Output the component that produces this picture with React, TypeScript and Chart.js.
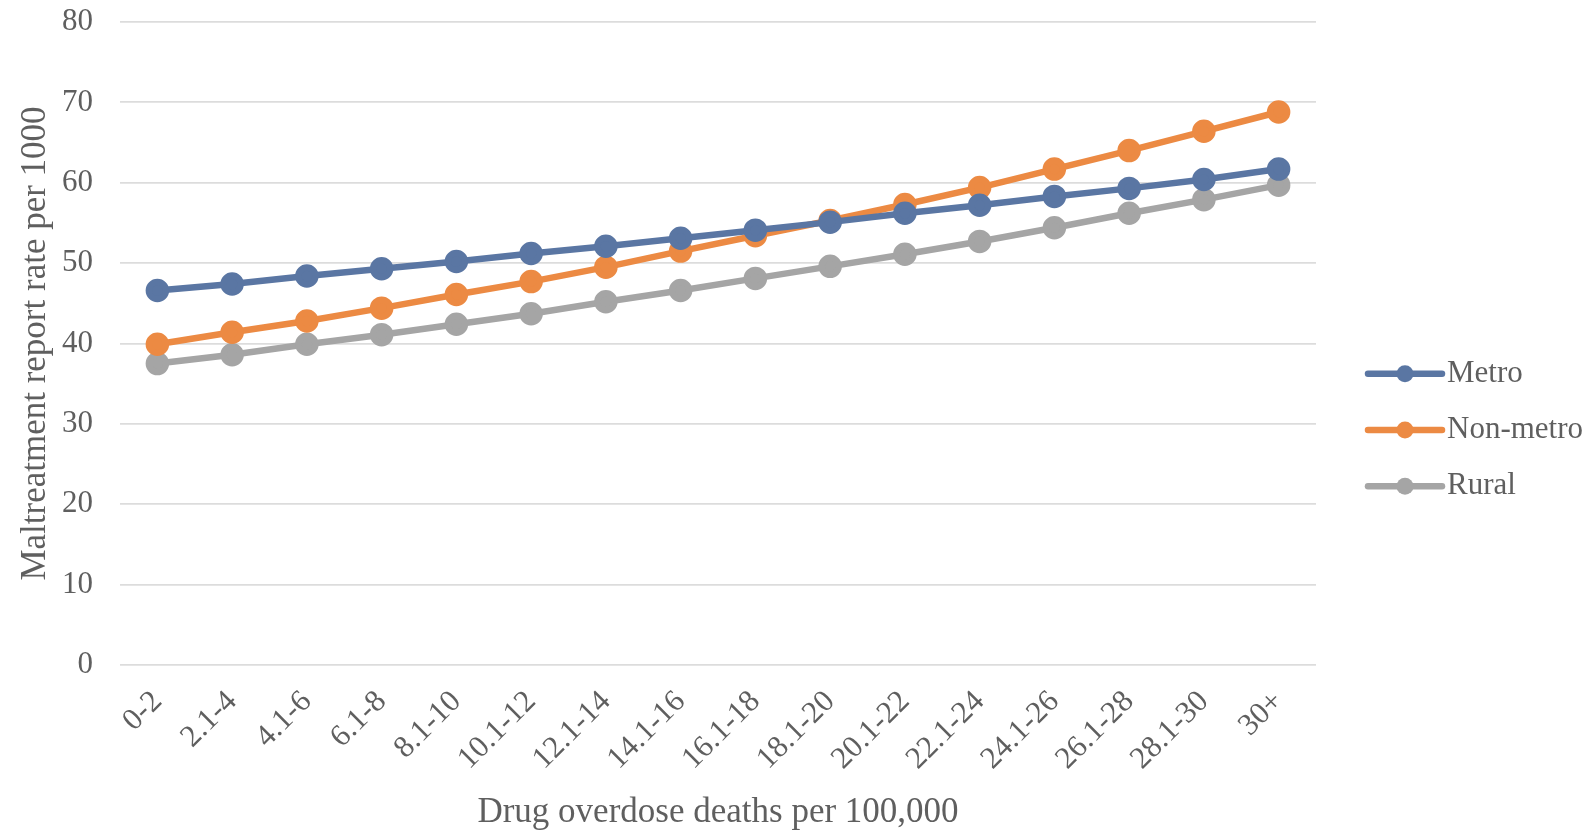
import { useEffect, useRef } from "react";
import { Chart, registerables } from "chart.js";

Chart.register(...registerables);

// Drug overdose death rate bands (per 100,000)
const categories = [
  "0-2", "2.1-4", "4.1-6", "6.1-8", "8.1-10", "10.1-12", "12.1-14", "14.1-16",
  "16.1-18", "18.1-20", "20.1-22", "22.1-24", "24.1-26", "26.1-28", "28.1-30", "30+",
];

// Maltreatment report rate per 1000, by county type
const metro = [46.6, 47.4, 48.4, 49.3, 50.2, 51.2, 52.1, 53.1, 54.1, 55.1, 56.2, 57.2, 58.3, 59.3, 60.4, 61.7];
const nonMetro = [39.9, 41.4, 42.8, 44.4, 46.1, 47.7, 49.5, 51.5, 53.4, 55.3, 57.3, 59.4, 61.7, 64.0, 66.4, 68.8];
const rural = [37.5, 38.6, 39.9, 41.1, 42.4, 43.7, 45.2, 46.6, 48.1, 49.6, 51.1, 52.7, 54.4, 56.2, 57.9, 59.7];

const seriesNames = ["Metro", "Non-metro", "Rural"];
const seriesColors = ["#5A76A3", "#EC8A43", "#A5A5A5"];

const yMin = 0;
const yMax = 80;
const yStep = 10;

const FONT = "'Liberation Serif', 'Times New Roman', serif";
const TEXT = "#5f5f5f";

// Legend drawn at the right: a short line with a dot, then the series name
const sideLegend = {
  id: "sideLegend",
  afterDraw(chart: any) {
    const { ctx, chartArea } = chart;
    const sets = chart.data.datasets;
    const rowGap = 56.3;
    const centerY = 430;
    const lineStart = chartArea.right + 52;
    const lineLen = 74;
    ctx.save();
    sets.forEach((ds: any, i: number) => {
      const y = centerY + (i - (sets.length - 1) / 2) * rowGap;
      ctx.strokeStyle = ds.borderColor;
      ctx.lineWidth = ds.borderWidth;
      ctx.lineCap = "round";
      ctx.beginPath();
      ctx.moveTo(lineStart, y);
      ctx.lineTo(lineStart + lineLen, y);
      ctx.stroke();
      ctx.fillStyle = ds.borderColor;
      ctx.beginPath();
      ctx.arc(lineStart + lineLen / 2, y, ds.pointRadius, 0, Math.PI * 2);
      ctx.fill();
      ctx.fillStyle = TEXT;
      ctx.font = `31px ${FONT}`;
      ctx.textAlign = "left";
      ctx.textBaseline = "middle";
      ctx.fillText(ds.label, lineStart + lineLen + 5, y);
    });
    ctx.restore();
  },
};

export default function App() {
  const canvasRef = useRef<HTMLCanvasElement | null>(null);

  useEffect(() => {
    if (!canvasRef.current) return;
    const values = [metro, nonMetro, rural];
    const chart = new Chart(canvasRef.current, {
      type: "line",
      data: {
        labels: categories,
        datasets: values.map((v, i) => ({
          label: seriesNames[i],
          data: v,
          borderColor: seriesColors[i],
          backgroundColor: seriesColors[i],
          pointBackgroundColor: seriesColors[i],
          pointBorderColor: seriesColors[i],
          borderWidth: 6.5,
          pointRadius: 8.5,
          pointHoverRadius: 8.5,
          tension: 0,
          fill: false,
        })),
      },
      options: {
        responsive: false,
        animation: false,
        layout: { padding: { top: 22, right: 274, bottom: 0, left: 0 } },
        plugins: {
          legend: { display: false },
          tooltip: { enabled: false },
        },
        scales: {
          x: {
            offset: true,
            grid: { display: false },
            border: { display: false },
            ticks: {
              color: TEXT,
              font: { family: FONT, size: 31, lineHeight: 0.8 },
              minRotation: 45,
              maxRotation: 45,
              padding: 15,
              autoSkip: false,
            },
            title: {
              display: true,
              text: "Drug overdose deaths per 100,000",
              color: TEXT,
              font: { family: FONT, size: 35, lineHeight: 1.0 },
              padding: { top: 0, bottom: 0 },
            },
            afterFit: (scale: any) => {
              scale.height = 165;
            },
          },
          y: {
            min: yMin,
            max: yMax,
            border: { display: false },
            grid: {
              color: "#dcdcdc",
              lineWidth: 1.8,
              drawTicks: true,
              tickLength: 24,
              tickColor: "rgba(0,0,0,0)",
            },
            ticks: {
              stepSize: yStep,
              color: TEXT,
              font: { family: FONT, size: 31 },
              padding: 3,
            },
            title: {
              display: true,
              text: "Maltreatment report rate per 1000",
              color: TEXT,
              font: { family: FONT, size: 35, lineHeight: 1.2 },
              padding: { top: 15, bottom: 4 },
            },
            afterFit: (scale: any) => {
              scale.width = 120;
            },
          },
        },
      },
      plugins: [sideLegend],
    });
    return () => chart.destroy();
  }, []);

  return (
    <div style={{ position: "absolute", left: 0, top: 0, width: 1590, height: 830, background: "#fff" }}>
      <canvas ref={canvasRef} width={1590} height={830} />
    </div>
  );
}
